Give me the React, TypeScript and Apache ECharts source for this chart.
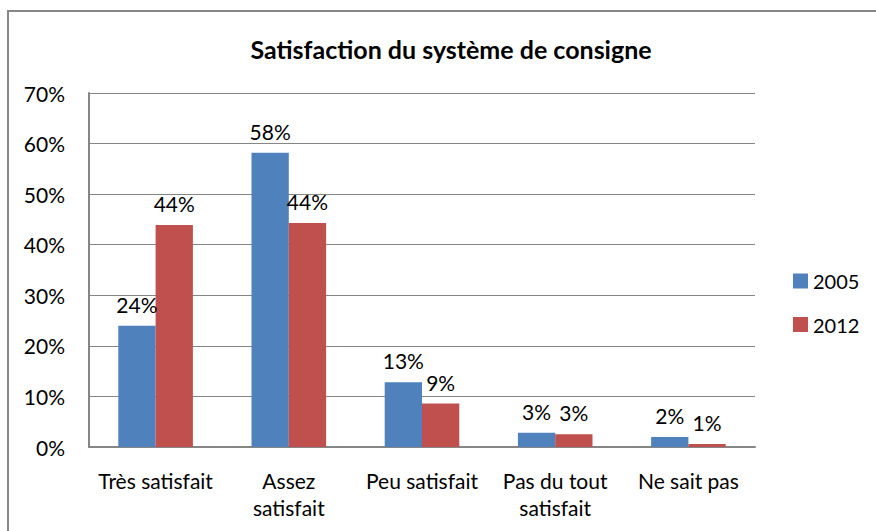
import React, { useEffect, useRef } from "react";
import * as echarts from "echarts";

const categories = ["Très satisfait", "Assez\nsatisfait", "Peu satisfait", "Pas du tout\nsatisfait", "Ne sait pas"];
const series2005 = [24, 58.2, 12.8, 2.8, 2.0];
const series2012 = [43.9, 44.3, 8.6, 2.5, 0.6];
const yTicks = { min: 0, max: 70, interval: 10 };
const titleText = "Satisfaction du système de consigne";

const FONT = "Lato";

export default function App() {
  const ref = useRef<HTMLDivElement>(null);
  useEffect(() => {
    if (!ref.current) return;
    const chart = echarts.init(ref.current, null, { renderer: "svg" });
    const labelCfg = {
      show: true,
      position: "top",
      distance: 11,
      color: "#000",
      fontFamily: FONT,
      fontSize: 21,
      formatter: (p: any) => Math.round(p.value) + "%",
    };
    chart.setOption({
      animation: false,
      backgroundColor: "#fff",
      title: {
        text: titleText,
        left: 446,
        top: 31,
        textAlign: "center",
        textStyle: { fontFamily: FONT, fontWeight: "bold", fontSize: 25, color: "#000" },
      },
      graphic: [
        {
          type: "rect",
          shape: { x: 8, y: 11, width: 900, height: 600 },
          style: { fill: "none", stroke: "#888", lineWidth: 2 },
          silent: true,
        },
      ],
      legend: {
        orient: "vertical",
        left: 788,
        top: 266,
        itemWidth: 15,
        itemHeight: 15,
        itemGap: 23.5,
        itemTextGap: 7,
        icon: "rect",
        textStyle: { fontFamily: FONT, fontSize: 20, color: "#000", lineHeight: 20 },
        data: ["2005", "2012"],
      },
      grid: { left: 89, right: 121, top: 93, bottom: 84, containLabel: false },
      xAxis: {
        type: "category",
        data: categories,
        axisLine: { show: true, lineStyle: { color: "#868686", width: 2 } },
        axisTick: { show: false },
        axisLabel: {
          interval: 0,
          margin: 20,
          color: "#000",
          fontFamily: FONT,
          fontSize: 21,
          lineHeight: 27,
        },
      },
      yAxis: {
        type: "value",
        min: yTicks.min,
        max: yTicks.max,
        interval: yTicks.interval,
        axisLine: { show: true, lineStyle: { color: "#868686", width: 2 } },
        axisTick: { show: false },
        splitLine: { lineStyle: { color: "#868686", width: 1 } },
        axisLabel: {
          formatter: "{value}%",
          margin: 24,
          color: "#000",
          fontFamily: FONT,
          fontSize: 21,
        },
      },
      series: [
        {
          name: "2005",
          type: "bar",
          data: series2005,
          barGap: "0%",
          barCategoryGap: "44%",
          itemStyle: { color: "#4F81BD" },
          label: labelCfg,
        },
        {
          name: "2012",
          type: "bar",
          data: series2012,
          barGap: "0%",
          barCategoryGap: "44%",
          itemStyle: { color: "#C0504D" },
          label: labelCfg,
        },
      ],
    });
    return () => chart.dispose();
  }, []);
  return (
    <div
      ref={ref}
      style={{ position: "fixed", left: 0, top: 0, width: 876, height: 531 }}
    />
  );
}
